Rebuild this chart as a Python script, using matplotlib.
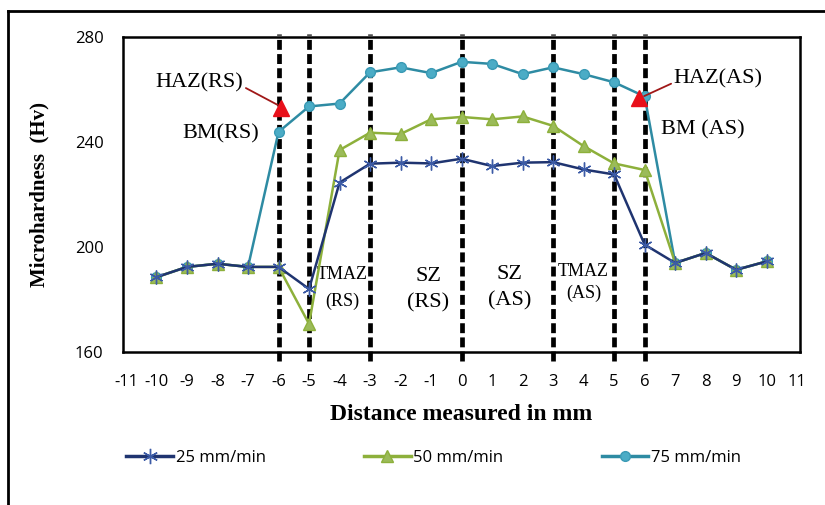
import matplotlib
matplotlib.use("Agg")
import matplotlib.pyplot as plt
from matplotlib.lines import Line2D

plt.rcParams["axes.unicode_minus"] = False

# Data
distance = [-10, -9, -8, -7, -6, -5, -4, -3, -2, -1, 0, 1, 2, 3, 4, 5, 6, 7, 8, 9, 10]
hv_25 = [188.5, 192.4, 193.6, 192.4, 192.4, 184, 224.5, 231.7, 232.1, 231.8, 233.6,
         230.8, 232.1, 232.3, 229.5, 227.6, 200.9, 193.9, 197.7, 191.3, 194.5]
hv_50 = [188.5, 192.4, 193.6, 192.4, 192.4, 170.7, 236.9, 243.5, 243.0, 248.6, 249.5,
         248.6, 249.7, 246.1, 238.4, 231.8, 229.3, 193.9, 197.7, 191.3, 194.5]
hv_75 = [188.5, 192.4, 193.6, 192.4, 243.8, 253.5, 254.6, 266.5, 268.4, 266.2, 270.5,
         269.7, 265.8, 268.4, 265.8, 262.7, 257.3, 193.9, 197.7, 191.3, 194.5]
series_labels = ["25 mm/min", "50 mm/min", "75 mm/min"]
zone_lines = [-6, -5, -3, 0, 3, 5, 6]
x_ticks = list(range(-11, 12))
y_ticks = [160, 200, 240, 280]

serif = "Liberation Serif"
sans = "Open Sans"

fig = plt.figure(figsize=(8.25, 5.05), dpi=100)
ax = fig.add_axes([0.149, 0.303, 0.821, 0.624])

c25, c50, c75 = "#1F3470", "#8DB03B", "#2E8BA3"
ax.plot(distance, hv_75, color=c75, lw=1.8, marker="o", ms=7,
        mfc="#4BACC6", mec="#3A9AB5", label=series_labels[2], zorder=3)
ax.plot(distance, hv_50, color=c50, lw=1.8, marker="^", ms=8,
        mfc="#9BBB59", mec="#8DB03B", label=series_labels[1], zorder=4)
ax.plot(distance, hv_25, color=c25, lw=1.8, marker=(6, 2, 0), ms=10,
        mec="#3C5BA6", mew=1.0, label=series_labels[0], zorder=5)

for xv in zone_lines:
    ax.axvline(xv, ymin=-0.03, ymax=1.01, color="black", lw=3.4,
               ls=(0, (2.1, 0.9)), clip_on=False, zorder=2)

ax.set_xlim(-11.1, 11.1)
ax.set_ylim(160, 280)
ax.set_xticks(x_ticks)
ax.set_yticks(y_ticks)
ax.tick_params(length=0, pad=16, labelsize=12)
ax.tick_params(axis="y", pad=14)
for lab in ax.get_xticklabels() + ax.get_yticklabels():
    lab.set_fontfamily(sans)
for sp in ax.spines.values():
    sp.set_linewidth(1.8)

ax.set_xlabel("Distance measured in mm", fontfamily=serif, fontweight="bold",
              fontsize=17, labelpad=10)
ax.set_ylabel("Microhardness  (Hv)", fontfamily=serif, fontweight="bold",
              fontsize=15, labelpad=18)

# Zone annotations
txt = dict(fontfamily=serif, color="black", ha="center", va="center")
ax.text(-8.6, 262.5, "HAZ(RS)", fontsize=16, **txt)
ax.text(-7.9, 243.2, "BM(RS)", fontsize=16, **txt)
ax.text(8.4, 264.0, "HAZ(AS)", fontsize=16, **txt)
ax.text(7.9, 244.4, "BM (AS)", fontsize=16, **txt)
ax.text(-3.9, 189.4, "TMAZ", fontsize=13, **txt)
ax.text(-3.9, 179.4, "(RS)", fontsize=13, **txt)
ax.text(-1.1, 188.8, "SZ", fontsize=16, **txt)
ax.text(-1.1, 178.8, "(RS)", fontsize=16, **txt)
ax.text(1.57, 189.5, "SZ", fontsize=16, **txt)
ax.text(1.57, 179.5, "(AS)", fontsize=16, **txt)
ax.text(4.0, 190.5, "TMAZ", fontsize=13, **txt)
ax.text(4.0, 182.2, "(AS)", fontsize=13, **txt)

# HAZ arrows with red triangle heads
ax.plot([-5.93], [253.1], marker="^", ms=11, color="#E8101A", zorder=6)
ax.plot([5.8], [256.7], marker="^", ms=11, color="#E8101A", zorder=6)
ax.annotate("", xy=(-5.95, 253.6), xytext=(-7.15, 261.0),
            arrowprops=dict(arrowstyle="-", color="#A01818", lw=1.3))
ax.annotate("", xy=(5.9, 257.0), xytext=(6.95, 262.6),
            arrowprops=dict(arrowstyle="-", color="#A01818", lw=1.3))

# Legend
handles = [Line2D([], [], color=c25, lw=2.5, marker=(6, 2, 0), ms=11, mec="#3C5BA6"),
           Line2D([], [], color=c50, lw=2.5, marker="^", ms=8, mfc="#9BBB59", mec="#8DB03B"),
           Line2D([], [], color=c75, lw=2.5, marker="o", ms=7, mfc="#4BACC6", mec="#3A9AB5")]
fig.legend(handles, series_labels, loc="center left", bbox_to_anchor=(0.135, 0.093),
           ncol=3, frameon=False, handlelength=2.8, handletextpad=0.15,
           columnspacing=5.9, prop={"family": sans, "size": 12})

# Outer border (left and top only)
fig.add_artist(Line2D([0.0097, 0.0097], [0.0, 0.978], color="black", lw=2,
                      transform=fig.transFigure))
fig.add_artist(Line2D([0.0097, 1.0], [0.978, 0.978], color="black", lw=2,
                      transform=fig.transFigure))

fig.savefig("out.png", dpi=100)
